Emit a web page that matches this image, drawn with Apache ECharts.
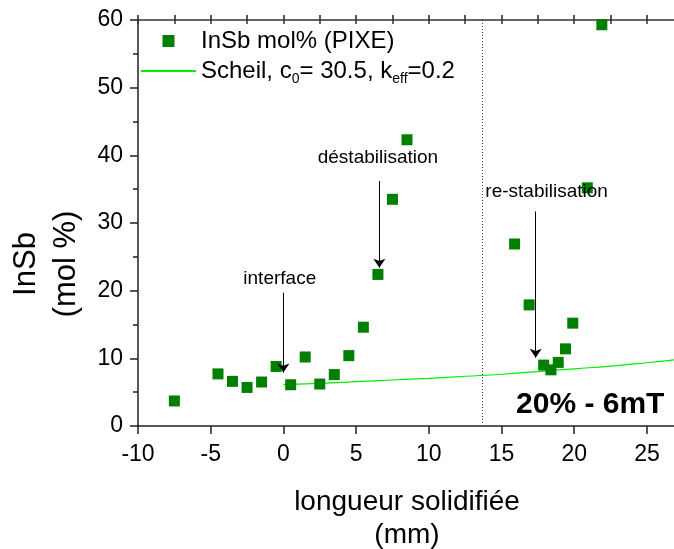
<!DOCTYPE html>
<html>
<head>
<meta charset="utf-8">
<script src="https://cdn.jsdelivr.net/npm/echarts@6/dist/echarts.min.js"></script>
<style>
html, body { margin: 0; padding: 0; background: #fff; }
#main { width: 674px; height: 549px; }
</style>
</head>
<body>
<div id="main"></div>
<script>
// PIXE measurements (mm, mol%)
var pixeX = [-7.5, -4.5, -3.5, -2.5, -1.5, -0.5, 0.5, 1.5, 2.5, 3.5, 4.5, 5.5, 6.5, 7.5, 8.5, 9.5,
	15.9, 16.9, 17.9, 18.4, 18.9, 19.4, 19.9, 20.9, 21.9];
var pixeY = [3.7, 7.7, 6.6, 5.7, 6.5, 8.8, 6.1, 10.2, 6.2, 7.6, 10.4, 14.6, 22.4, 33.5, 42.3, 60.7,
	26.9, 17.9, 9.0, 8.3, 9.4, 11.4, 15.2, 35.2, 59.3];

// Scheil curve
var scheilX = [0, 2.5, 5, 7.5, 10, 12.5, 15, 17.5, 20, 22.5, 25, 27];
var scheilY = [6.1, 6.3, 6.55, 6.8, 7.05, 7.35, 7.65, 8.05, 8.45, 8.85, 9.35, 9.8];

var xTicks = [-10, -5, 0, 5, 10, 15, 20, 25];
var yTicks = [0, 10, 20, 30, 40, 50, 60];

// annotations: text, label position, arrow start/end
var annoText = ['interface', 'déstabilisation', 're-stabilisation'];
var annoLabelX = [-0.25, 6.5, 18.1];
var annoLabelY = [21.7, 39.7, 34.6];
var arrowX = [0, 6.6, 17.35];
var arrowTop = [19.7, 36.2, 31.7];
var arrowEnd = [7.9, 23.4, 10.1];
var boundaryX = 13.7;
var caseLabel = '20% - 6mT';

var FONT = 'Liberation Sans, Arial, sans-serif';

var dom = document.getElementById('main');
var myChart = echarts.init(dom, null, { renderer: 'canvas' });

var pixeData = pixeX.map(function (x, i) { return [x, pixeY[i]]; });
var scheilData = scheilX.map(function (x, i) { return [x, scheilY[i]]; });

var arrows = arrowX.map(function (x, i) {
	return [{ coord: [x, arrowTop[i]] }, { coord: [x, arrowEnd[i]] }];
});
var labels = annoText.map(function (t, i) {
	return { name: t, coord: [annoLabelX[i], annoLabelY[i]] };
});
labels.push({
	name: caseLabel, coord: [21.1, 3.2],
	label: { fontSize: 30, fontWeight: 'bold' }
});

var option = {
	animation: false,
	backgroundColor: '#fff',
	textStyle: { fontFamily: FONT, color: '#000' },
	grid: { left: 138, top: 20, width: 538, height: 406, containLabel: false, outerBoundsMode: 'none' },
	legend: {
		orient: 'vertical',
		left: 140,
		top: 26,
		padding: 0,
		itemWidth: 55,
		itemHeight: 12,
		itemGap: 0,
		textStyle: {
			fontFamily: FONT, fontSize: 24, lineHeight: 30, color: '#000',
			rich: { s: { fontFamily: FONT, fontSize: 14, lineHeight: 12, verticalAlign: 'bottom', color: '#000' } }
		},
		formatter: function (name) {
			if (name === 'Scheil') return 'Scheil, c{s|0}= 30.5, k{s|eff}=0.2';
			return name;
		},
		data: [
			{ name: 'InSb mol% (PIXE)', icon: 'path://M0 0H10V10H0Z' },
			{ name: 'Scheil', itemStyle: { opacity: 0 } }
		]
	},
	xAxis: [
		{
			type: 'value', min: -10, max: 27, interval: 5,
			name: 'longueur solidifiée\n(mm)',
			nameLocation: 'middle', nameGap: 60,
			nameTextStyle: { fontFamily: FONT, fontSize: 28, lineHeight: 33, color: '#000' },
			axisLine: { onZero: false, lineStyle: { color: '#222', width: 1.5 } },
			axisTick: { inside: false, length: 8, lineStyle: { color: '#222', width: 1.5 } },
			axisLabel: {
				fontFamily: FONT, fontSize: 23, color: '#000', margin: 17, showMaxLabel: false,
				formatter: function (v) { return xTicks.indexOf(v) >= 0 ? String(v) : ''; }
			},
			splitLine: { show: false }
		},
		{
			type: 'value', min: -10, max: 27, interval: 2.5,
			axisLine: { show: false, onZero: false },
			axisTick: { inside: false, length: 5, lineStyle: { color: '#222', width: 1.5 } },
			axisLabel: { show: false },
			splitLine: { show: false }
		},
		{
			type: 'value', position: 'top', min: -10, max: 27, interval: 2.5,
			axisLine: { onZero: false, lineStyle: { color: '#333', width: 1.5 } },
			axisTick: { inside: true, length: 4, lineStyle: { color: '#333', width: 1.5 } },
			axisLabel: { show: false },
			splitLine: { show: false }
		}
	],
	yAxis: {
		type: 'value', min: 0, max: 60, interval: 10,
		name: 'InSb\n(mol %)',
		nameLocation: 'middle', nameGap: 52,
		nameTextStyle: { fontFamily: FONT, fontSize: 31, lineHeight: 40, color: '#000', padding: [0, 82, 0, 0] },
		axisLine: { onZero: false, lineStyle: { color: '#222', width: 1.5 } },
		axisTick: { inside: false, length: 8, lineStyle: { color: '#222', width: 1.5 } },
		minorTick: { show: true, splitNumber: 2, length: 5, lineStyle: { color: '#222', width: 1.5 } },
		axisLabel: {
			fontFamily: FONT, fontSize: 23, color: '#000', margin: 15,
			formatter: function (v) { return yTicks.indexOf(v) >= 0 ? String(v) : ''; }
		},
		splitLine: { show: false }
	},
	series: [
		{
			name: 'Scheil',
			type: 'line',
			data: scheilData,
			smooth: true,
			symbol: 'none',
			lineStyle: { color: '#00ee00', width: 1.2 },
			itemStyle: { color: '#00ee00' },
			z: 2,
			markLine: {
				silent: true,
				symbol: ['none', 'arrow'],
				symbolSize: 9,
				label: { show: false },
				lineStyle: { color: '#000', width: 1, type: 'solid' },
				data: arrows
			}
		},
		{
			name: 'InSb mol% (PIXE)',
			type: 'scatter',
			data: pixeData,
			symbol: 'rect',
			symbolSize: 11,
			itemStyle: { color: '#007f00', opacity: 1 },
			z: 3,
			markLine: {
				silent: true,
				symbol: 'none',
				label: { show: false },
				lineStyle: { color: '#444', width: 1, type: [1, 2] },
				data: [{ xAxis: boundaryX }]
			},
			markPoint: {
				silent: true,
				symbol: 'rect',
				symbolSize: 0,
				label: {
					show: true, position: 'inside', formatter: '{b}',
					fontFamily: FONT, fontSize: 19, color: '#000'
				},
				data: labels
			}
		}
	]
};

if (option && typeof option === 'object') {
	myChart.setOption(option);
}
window.addEventListener('resize', myChart.resize);
</script>
</body>
</html>
